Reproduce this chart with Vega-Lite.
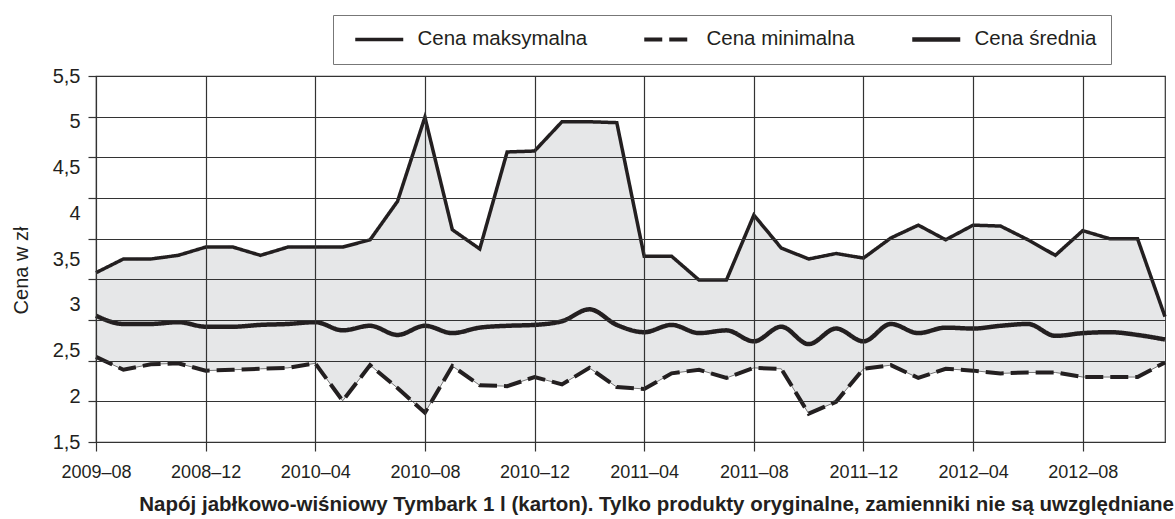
{
  "$schema": "https://vega.github.io/schema/vega-lite/v6.json",
  "width": 1069,
  "height": 366,
  "autosize": {"type": "none"},
  "padding": {"left": 96, "top": 76, "right": 10, "bottom": 77},
  "background": "white",
  "config": {
    "font": "Liberation Sans",
    "view": {"stroke": "#333333", "strokeWidth": 1.2},
    "axis": {"labelColor": "#231f20", "titleColor": "#231f20", "gridColor": "#333333", "gridWidth": 1.2, "gridOpacity": 1, "tickColor": "#333333", "tickWidth": 1.2, "domain": false},
    "legend": {"orient": "none", "legendX": 237, "legendY": -61, "direction": "horizontal", "padding": 14, "strokeColor": "#777777", "fillColor": "white", "labelFontSize": 20.5, "labelColor": "#231f20", "labelLimit": 400, "labelOffset": 28, "symbolOffset": 22, "columnPadding": 48, "symbolSize": 100, "symbolType": "M-4.8,0H4.8", "title": null}
  },
  "title": {"text": "Napój jabłkowo-wiśniowy Tymbark 1 l (karton). Tylko produkty oryginalne, zamienniki nie są uwzględniane", "orient": "bottom", "anchor": "end", "dx": 0, "offset": 14, "fontSize": 20.5, "fontWeight": "bold", "color": "#231f20"},
  "data": {"values": [
    {"i": 0, "max": 3.35, "mean": 2.88, "min": 2.43},
    {"i": 1, "max": 3.50, "mean": 2.79, "min": 2.29},
    {"i": 2, "max": 3.50, "mean": 2.79, "min": 2.35},
    {"i": 3, "max": 3.54, "mean": 2.81, "min": 2.36},
    {"i": 4, "max": 3.63, "mean": 2.76, "min": 2.28},
    {"i": 5, "max": 3.63, "mean": 2.76, "min": 2.29},
    {"i": 6, "max": 3.54, "mean": 2.78, "min": 2.30},
    {"i": 7, "max": 3.63, "mean": 2.79, "min": 2.31},
    {"i": 8, "max": 3.63, "mean": 2.81, "min": 2.36},
    {"i": 9, "max": 3.63, "mean": 2.72, "min": 1.95},
    {"i": 10, "max": 3.71, "mean": 2.77, "min": 2.34},
    {"i": 11, "max": 4.13, "mean": 2.67, "min": 2.09},
    {"i": 12, "max": 5.05, "mean": 2.77, "min": 1.82},
    {"i": 13, "max": 3.82, "mean": 2.69, "min": 2.33},
    {"i": 14, "max": 3.61, "mean": 2.75, "min": 2.12},
    {"i": 15, "max": 4.67, "mean": 2.77, "min": 2.11},
    {"i": 16, "max": 4.68, "mean": 2.78, "min": 2.21},
    {"i": 17, "max": 5.00, "mean": 2.82, "min": 2.13},
    {"i": 18, "max": 5.00, "mean": 2.95, "min": 2.31},
    {"i": 19, "max": 4.99, "mean": 2.78, "min": 2.10},
    {"i": 20, "max": 3.53, "mean": 2.70, "min": 2.08},
    {"i": 21, "max": 3.53, "mean": 2.78, "min": 2.25},
    {"i": 22, "max": 3.27, "mean": 2.69, "min": 2.29},
    {"i": 23, "max": 3.27, "mean": 2.72, "min": 2.20},
    {"i": 24, "max": 3.98, "mean": 2.60, "min": 2.31},
    {"i": 25, "max": 3.62, "mean": 2.76, "min": 2.30},
    {"i": 26, "max": 3.50, "mean": 2.57, "min": 1.81},
    {"i": 27, "max": 3.56, "mean": 2.74, "min": 1.94},
    {"i": 28, "max": 3.51, "mean": 2.60, "min": 2.30},
    {"i": 29, "max": 3.73, "mean": 2.79, "min": 2.34},
    {"i": 30, "max": 3.87, "mean": 2.69, "min": 2.20},
    {"i": 31, "max": 3.71, "mean": 2.75, "min": 2.30},
    {"i": 32, "max": 3.87, "mean": 2.74, "min": 2.28},
    {"i": 33, "max": 3.86, "mean": 2.77, "min": 2.25},
    {"i": 34, "max": 3.71, "mean": 2.79, "min": 2.26},
    {"i": 35, "max": 3.54, "mean": 2.66, "min": 2.26},
    {"i": 36, "max": 3.81, "mean": 2.69, "min": 2.21},
    {"i": 37, "max": 3.72, "mean": 2.70, "min": 2.21},
    {"i": 38, "max": 3.72, "mean": 2.67, "min": 2.21},
    {"i": 39, "max": 2.87, "mean": 2.62, "min": 2.37}
  ]},
  "layer": [
    {
      "mark": {"type": "area", "color": "#e6e7e8"},
      "encoding": {
        "x": {"field": "i", "type": "quantitative", "scale": {"domain": [0, 39], "nice": false, "zero": false},
          "axis": {"values": [0, 4, 8, 12, 16, 20, 24, 28, 32, 36], "labelExpr": "['2009–08','2008–12','2010–04','2010–08','2010–12','2011–04','2011–08','2011–12','2012–04','2012–08'][round(datum.value/4)]", "grid": true, "tickSize": 9, "labelPadding": 12, "labelFontSize": 18, "labelFlush": false, "labelOverlap": false, "title": null, "zindex": 1}},
        "y": {"field": "min", "type": "quantitative", "scale": {"domain": [1.5, 5.5], "nice": false, "zero": false},
          "axis": {"orient": "left", "values": [1.5, 2, 2.5, 3, 3.5, 4, 4.5, 5, 5.5], "grid": false, "ticks": false, "labelPadding": 16, "labelFontSize": 20, "labelExpr": "replace(format(datum.value, '~g'), '.', ',')", "title": "Cena w zł", "titleFontSize": 20, "titleFontWeight": "normal", "titleX": -75, "titleY": 194, "titleAngle": -90, "titleBaseline": "middle", "titleAlign": "center"}},
        "y2": {"field": "max"}
      }
    },
    {
      "mark": {"type": "line", "color": "#777777", "strokeWidth": 1},
      "encoding": {
        "x": {"field": "i", "type": "quantitative"},
        "y": {"field": "min", "type": "quantitative",
          "axis": {"orient": "left", "values": [1.5, 1.94444, 2.38889, 2.83333, 3.27778, 3.72222, 4.16667, 4.61111, 5.05556, 5.5], "grid": true, "labels": false, "ticks": true, "tickSize": 8, "title": null, "zindex": 1}}
      }
    },
    {
      "transform": [{"fold": ["max", "min"], "as": ["series", "value"]}],
      "mark": {"type": "line", "color": "#231f20"},
      "encoding": {
        "x": {"field": "i", "type": "quantitative"},
        "y": {"field": "value", "type": "quantitative", "axis": null},
        "detail": {"field": "series"},
        "strokeDash": {"field": "series", "type": "ordinal", "scale": {"domain": ["max", "min", "mean"], "range": [[1, 0], [18, 7], [1, 0]]}, "legend": {"symbolType": "M-4.8,0H4.8", "labelExpr": "{'max': 'Cena maksymalna', 'min': 'Cena minimalna', 'mean': 'Cena średnia'}[datum.value]"}},
        "strokeWidth": {"field": "series", "type": "ordinal", "scale": {"domain": ["max", "min", "mean"], "range": [3.5, 4.5, 7.5]}, "legend": {"symbolType": "M-4.8,0H4.8", "labelExpr": "{'max': 'Cena maksymalna', 'min': 'Cena minimalna', 'mean': 'Cena średnia'}[datum.value]"}}
      }
    },
    {
      "transform": [{"fold": ["mean"], "as": ["series", "value"]}],
      "mark": {"type": "line", "color": "#231f20", "interpolate": "monotone"},
      "encoding": {
        "x": {"field": "i", "type": "quantitative"},
        "y": {"field": "value", "type": "quantitative", "axis": null},
        "strokeDash": {"field": "series", "type": "ordinal", "scale": {"domain": ["max", "min", "mean"], "range": [[1, 0], [18, 7], [1, 0]]}, "legend": {"symbolType": "M-4.8,0H4.8", "labelExpr": "{'max': 'Cena maksymalna', 'min': 'Cena minimalna', 'mean': 'Cena średnia'}[datum.value]"}},
        "strokeWidth": {"field": "series", "type": "ordinal", "scale": {"domain": ["max", "min", "mean"], "range": [3.5, 4.5, 7.5]}, "legend": {"symbolType": "M-4.8,0H4.8", "labelExpr": "{'max': 'Cena maksymalna', 'min': 'Cena minimalna', 'mean': 'Cena średnia'}[datum.value]"}}
      }
    }
  ],
  "resolve": {"axis": {"y": "independent"}}
}
